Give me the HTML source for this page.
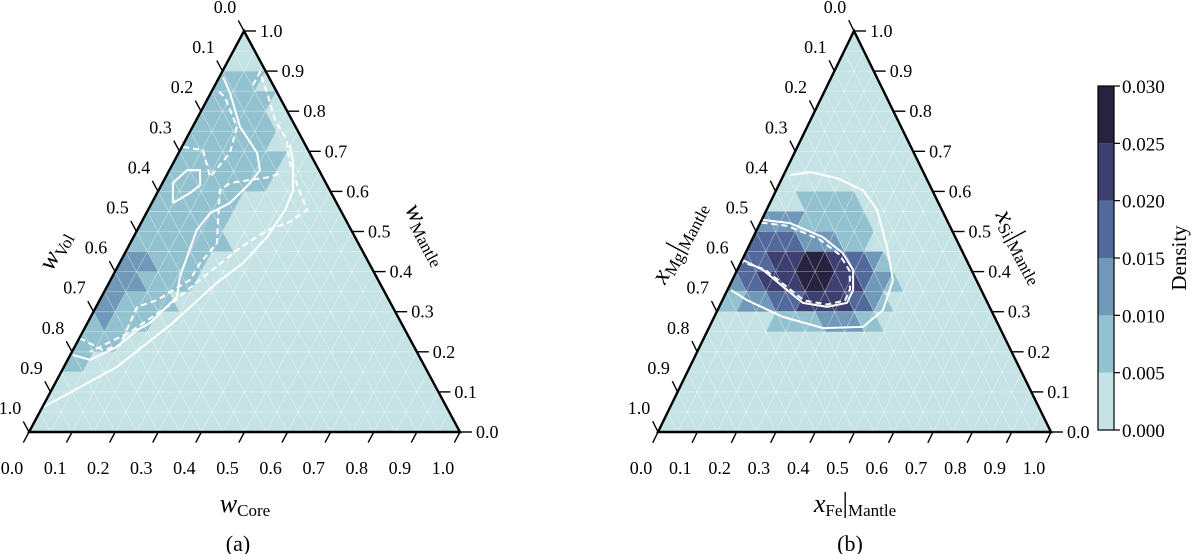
<!DOCTYPE html>
<html><head><meta charset="utf-8">
<style>
html,body{margin:0;padding:0;background:#fff;}
svg{display:block;font-family:"Liberation Serif","DejaVu Serif",serif;}
</style></head>
<body>
<svg id="fig" width="1200" height="554" viewBox="0 0 1200 554" xmlns="http://www.w3.org/2000/svg">
<g id="panelA"></g>
<g id="panelB"></g>
<g id="cbar"></g>
<text x="245" y="512" font-size="26" text-anchor="middle"><tspan font-style="italic">w</tspan><tspan font-size="17" dy="4">Core</tspan></text>
<text x="238" y="551" font-size="22" text-anchor="middle">(a)</text>
<text transform="translate(62,254) rotate(-61.8)" font-size="26" text-anchor="middle"><tspan font-style="italic">w</tspan><tspan font-size="17" dy="4">Vol</tspan></text>
<text transform="translate(420,238) rotate(61.8)" font-size="26" text-anchor="middle"><tspan font-style="italic">w</tspan><tspan font-size="17" dy="4">Mantle</tspan></text>
<text x="855" y="512" font-size="26" text-anchor="middle"><tspan font-style="italic">x</tspan><tspan font-size="17" dy="4">Fe</tspan><tspan dy="-4" font-size="28">|</tspan><tspan font-size="17" dy="4">Mantle</tspan></text>
<text x="850" y="551" font-size="22" text-anchor="middle">(b)</text>
<text transform="translate(686,246) rotate(-61.8)" font-size="26" text-anchor="middle"><tspan font-style="italic">x</tspan><tspan font-size="17" dy="4">Mg</tspan><tspan dy="-4" font-size="28">|</tspan><tspan font-size="17" dy="4">Mantle</tspan></text>
<text transform="translate(1014,250) rotate(61.8)" font-size="26" text-anchor="middle"><tspan font-style="italic">x</tspan><tspan font-size="17" dy="4">Si</tspan><tspan dy="-4" font-size="28">|</tspan><tspan font-size="17" dy="4">Mantle</tspan></text>
<text transform="translate(1186,258) rotate(-90)" font-size="21" text-anchor="middle">Density</text>
</svg>
<script>
// ---- data ----
const tickValues = [0,0.1,0.2,0.3,0.4,0.5,0.6,0.7,0.8,0.9,1.0];
const tickLabels = ["0.0","0.1","0.2","0.3","0.4","0.5","0.6","0.7","0.8","0.9","1.0"];
const binEdges = [0,0.005,0.010,0.015,0.020,0.025,0.030];
const binColors = ["#c5e3e4","#92c2cf","#6f98b9","#52699c","#3c3f70","#26223f"];
const cbarLabels = ["0.000","0.005","0.010","0.015","0.020","0.025","0.030"];
const baseDensity = 0.003;
// panel a cells: row, start index, end index, density
const cellRowA   = [2,3,4,5,6,7,8,9,10,11,12,13,14,15,16, 11,12,13,14];
const cellStartA = [0,0,0,0,0,0,0,0,0, 0, 0, 0, 0, 0, 0,  0, 0, 0, 1];
const cellEndA   = [3,5,6,7,9,9,7,7,8, 7, 7, 6, 5, 3, 1,  2, 2, 1, 1];
const cellDensA  = [.0075,.0075,.0075,.0075,.0075,.0075,.0075,.0075,.0075,.0075,.0075,.0075,.0075,.0075,.0075,.0125,.0125,.0125,.0125];
// panel b cells
const cellRowB   = [8, 9,9, 10,10,10, 11,11,11,11,11,11,11, 12,12,12,12,12,12,12,12, 13,13,13,13,13,13,13, 14,14,14];
const cellStartB = [3, 0,4, 0,5,9,   0,3,6,9,11,13,14,    0,1,3,7,10,13,14,16,     0,2,5,8,13,15,16,      6,11,15];
const cellEndB   = [8, 3,10, 4,8,11, 2,5,8,10,12,13,14,   0,2,6,9,12,13,15,16,     1,4,7,12,14,15,16,     10,14,16];
const cellDensB  = [.0075, .0125,.0075, .0175,.0125,.0075, .0175,.0225,.0275,.0225,.0175,.0125,.0075,
  .0125,.0175,.0225,.0275,.0225,.0175,.0125,.0075, .0075,.0125,.0175,.0225,.0175,.0125,.0075, .0075,.0125,.0075];
// contours: [bottom-axis fraction a, height fraction t]
const contA_outerSolid = [[0.00,0.06],[0.123,0.162],[0.198,0.272],[0.25,0.372],[0.286,0.421],[0.31,0.486],[0.318,0.554],[0.312,0.603],[0.274,0.678],[0.248,0.716]];
const contA_outerDash = [[0.088,0.865],[0.088,0.898],[0.135,0.84],[0.183,0.778],[0.235,0.728],[0.265,0.678],[0.315,0.616],[0.369,0.554],[0.344,0.524],[0.303,0.504],[0.26,0.459],[0.227,0.409],[0.194,0.359],[0.169,0.317],[0.11,0.249],[0.042,0.2]];
const contA_innerSolid = [[0.009,0.885],[0.045,0.845],[0.11,0.761],[0.182,0.696],[0.21,0.653],[0.203,0.62],[0.181,0.571],[0.148,0.546],[0.138,0.504],[0.149,0.436],[0.157,0.387],[0.175,0.337],[0.145,0.272],[0.124,0.254],[0.098,0.212],[0.052,0.18],[0.006,0.192]];
const contA_innerDash1 = [[0.001,0.234],[0.07,0.204],[0.103,0.217],[0.095,0.312],[0.133,0.329],[0.184,0.379],[0.187,0.421],[0.201,0.471],[0.142,0.603],[0.157,0.621],[0.242,0.636],[0.26,0.646]];
const contA_innerDash2 = [[0.003,0.711],[0.053,0.703],[0.103,0.636],[0.119,0.696],[0.103,0.761],[0.038,0.835],[0.011,0.853]];
const contA_hex = [[0.049,0.571],[0.024,0.621],[0.041,0.653],[0.071,0.653],[0.09,0.616],[0.076,0.596],[0.049,0.571]];
const contB_outerSolid = [[0.016,0.641],[0.064,0.648],[0.14,0.633],[0.221,0.603],[0.281,0.554],[0.353,0.461],[0.409,0.379],[0.421,0.304],[0.391,0.262],[0.291,0.259],[0.175,0.287],[0.062,0.329],[0.009,0.354]];
const contB_innerSolid = [[0.003,0.529],[0.076,0.521],[0.177,0.486],[0.248,0.446],[0.295,0.404],[0.32,0.354],[0.32,0.322],[0.275,0.312],[0.208,0.322],[0.138,0.362],[0.066,0.404],[0.002,0.429]];
const contB_innerDash = [[0.003,0.522],[0.074,0.514],[0.172,0.48],[0.242,0.442],[0.287,0.402],[0.311,0.356],[0.312,0.328],[0.272,0.318],[0.208,0.328],[0.14,0.366],[0.068,0.406],[0.002,0.424]];

const NS = "http://www.w3.org/2000/svg";
function mk(tag, attrs, parent){const e=document.createElementNS(NS,tag);for(const k in attrs)e.setAttribute(k,attrs[k]);parent.appendChild(e);return e;}
function colorFor(d){for(let i=0;i<binColors.length;i++){if(d<binEdges[i+1])return binColors[i];}return binColors[binColors.length-1];}

function drawPanel(g, geo, rows, starts, ends, dens, solids, dashes, prefix){
  const {BL,BR,T}=geo; const W=BR[0]-BL[0], H=BL[1]-T[1], dx=T[0]-BL[0];
  const P=(a,t)=>[BL[0]+a*W+t*dx, BL[1]-t*H];
  const N=20;
  const bg=mk('polygon',{points:[BL,BR,T].map(p=>p.join(',')).join(' '),fill:colorFor(baseDensity)},g);
  
  
  const cg=mk('g',{},g);
  
  
  for(let k=0;k<rows.length;k++){
    const r=rows[k]; const tt=1-r/N, tb=1-(r+1)/N;
    for(let j=starts[k];j<=ends[k];j++){
      const i=Math.floor(j/2); let pts;
      if(j%2===0) pts=[P(i/N,tt),P(i/N,tb),P((i+1)/N,tb)];
      else pts=[P(i/N,tt),P((i+1)/N,tt),P((i+1)/N,tb)];
      const c=mk('polygon',{points:pts.map(p=>p.map(v=>v.toFixed(2)).join(',')).join(' '),fill:colorFor(dens[k]),stroke:colorFor(dens[k]),'stroke-width':0.6},cg);
      
      
    }
  }
  const gg=mk('g',{stroke:'#ffffff','stroke-opacity':0.4,'stroke-width':0.8},g);
  
  
  for(let k=1;k<N;k++){
    const f=k/N;
    let p1=P(0,f),p2=P(1-f,f); mk('line',{x1:p1[0],y1:p1[1],x2:p2[0],y2:p2[1]},gg);
    p1=P(f,0);p2=P(f,1-f); mk('line',{x1:p1[0],y1:p1[1],x2:p2[0],y2:p2[1]},gg);
    p1=P(f,0);p2=P(0,f); mk('line',{x1:p1[0],y1:p1[1],x2:p2[0],y2:p2[1]},gg);
  }
  const path=(arr)=>arr.map((q,i)=>(i?'L':'M')+P(q[0],q[1]).map(v=>v.toFixed(1)).join(',')).join(' ');
  solids.forEach(s=>{const e=mk('path',{d:path(s),fill:'none',stroke:'#fff','stroke-width':2},g);
    
    });
  dashes.forEach(s=>{const e=mk('path',{d:path(s),fill:'none',stroke:'#fff','stroke-width':2,'stroke-dasharray':'6,4'},g);
    
    });
  const b=mk('polygon',{points:[BL,BR,T].map(p=>p.join(',')).join(' '),fill:'none',stroke:'#000','stroke-width':2.4,'stroke-linejoin':'miter'},g);
  
  
  const tg=mk('g',{stroke:'#000','stroke-width':1.4},g);
  
  
  const lg=mk('g',{'font-size':18,fill:'#000'},g);
  
  
  const L=Math.hypot(T[0]-BR[0],T[1]-BR[1]), Lb=Math.hypot(BL[0]-T[0],BL[1]-T[1]);
  const uL=[(T[0]-BR[0])/L*12,(T[1]-BR[1])/L*12], uB=[(BL[0]-T[0])/Lb*12,(BL[1]-T[1])/Lb*12];
  tickValues.forEach((v,i)=>{
    let p=[BL[0]+v*W,BL[1]];
    mk('line',{x1:p[0],y1:p[1],x2:p[0]+uB[0],y2:p[1]+uB[1]},tg);
    let t=mk('text',{x:p[0]-17,y:p[1]+42,'text-anchor':'middle'},lg); t.textContent=tickLabels[i];
    
    
    p=[T[0]+v*(BL[0]-T[0]),T[1]+v*(BL[1]-T[1])];
    mk('line',{x1:p[0],y1:p[1],x2:p[0]+uL[0],y2:p[1]+uL[1]},tg);
    t=mk('text',{x:p[0]-19,y:p[1]-18,'text-anchor':'middle'},lg); t.textContent=tickLabels[i];
    
    
    p=[BR[0]+v*(T[0]-BR[0]),BR[1]+v*(T[1]-BR[1])];
    mk('line',{x1:p[0],y1:p[1],x2:p[0]+12,y2:p[1]},tg);
    t=mk('text',{x:p[0]+16,y:p[1]+6,'text-anchor':'start'},lg); t.textContent=tickLabels[i];
    
    
  });
}

drawPanel(document.getElementById('panelA'),{BL:[29,432],BR:[460,432],T:[244,31]},
  cellRowA,cellStartA,cellEndA,cellDensA,
  [contA_outerSolid,contA_innerSolid,contA_hex],[contA_outerDash,contA_innerDash1,contA_innerDash2],'panel-a');
drawPanel(document.getElementById('panelB'),{BL:[658,432],BR:[1051,432],T:[854,31]},
  cellRowB,cellStartB,cellEndB,cellDensB,
  [contB_outerSolid,contB_innerSolid],[contB_innerDash],'panel-b');

(function(){
  const g=document.getElementById('cbar');
  const x0=1098,w=16,yTop=86,yBot=430;
  const y=v=>yBot-(v-binEdges[0])/(binEdges[binEdges.length-1]-binEdges[0])*(yBot-yTop);
  for(let i=0;i<binColors.length;i++){
    const r=mk('rect',{x:x0,y:y(binEdges[i+1]),width:w,height:y(binEdges[i])-y(binEdges[i+1]),fill:binColors[i]},g);
    
    
  }
  const f=mk('rect',{x:x0,y:yTop,width:w,height:yBot-yTop,fill:'none',stroke:'#000','stroke-width':1.2},g);
  
  
  binEdges.forEach((v,i)=>{
    mk('line',{x1:x0+w,y1:y(v),x2:x0+w+6,y2:y(v),stroke:'#000','stroke-width':1.2},g);
    const t=mk('text',{x:x0+w+8,y:y(v)+7,'font-size':19},g); t.textContent=cbarLabels[i];
    
    
  });
})();
</script>
</body></html>
